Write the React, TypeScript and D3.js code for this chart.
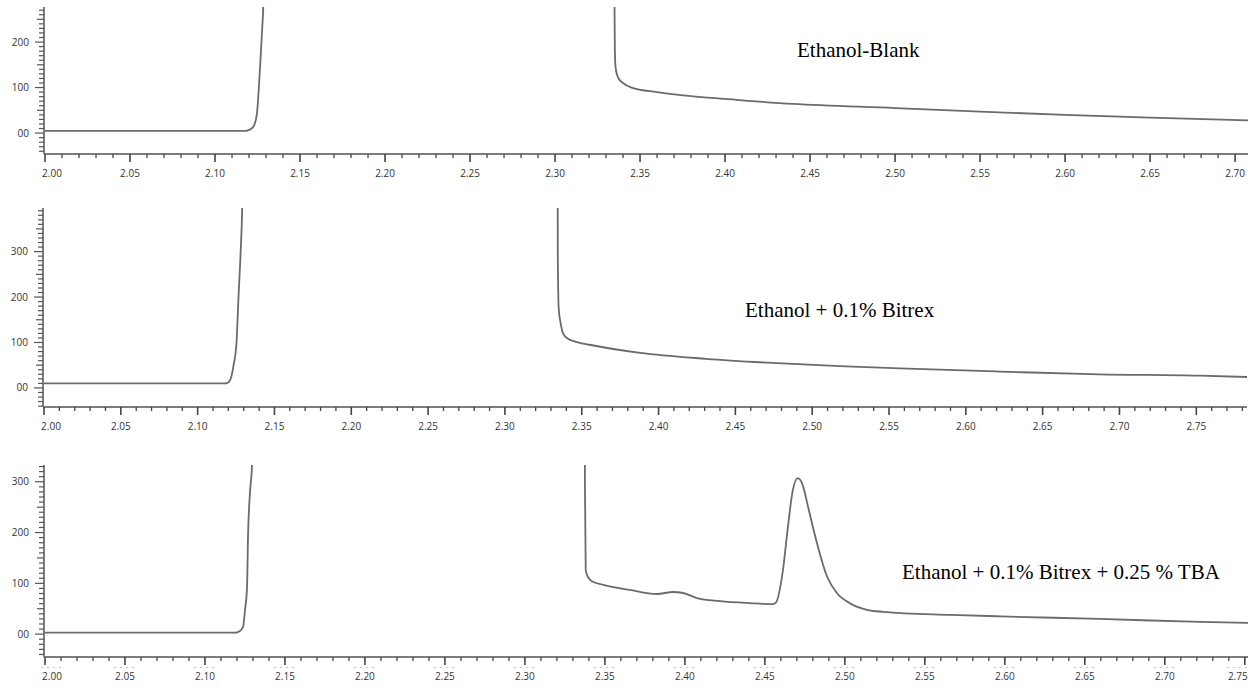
import React from "react";
import * as d3 from "d3";

// retention time (min) vs detector response
const blankTime = [2.0, 2.05, 2.1, 2.118, 2.1194, 2.1224, 2.1247, 2.1253, 2.1265, 2.1276, 2.1285, 2.131, 2.3346, 2.335, 2.3352, 2.3356, 2.3372, 2.34, 2.345, 2.36, 2.38, 2.4, 2.44, 2.5, 2.55, 2.6, 2.65, 2.708];
const blankSignal = [5, 5, 5, 5, 6, 13, 44, 72, 145, 220, 290, 1000, 1000, 270, 180, 145, 121, 110, 100, 90, 81, 75, 64, 55, 47, 40, 34, 28];

const bitrexTime = [2.0, 2.05, 2.1, 2.118, 2.1195, 2.1215, 2.1234, 2.1253, 2.1266, 2.128, 2.129, 2.131, 2.3342, 2.3344, 2.335, 2.3364, 2.3377, 2.3403, 2.3468, 2.3552, 2.388, 2.431, 2.474, 2.518, 2.557, 2.622, 2.687, 2.752, 2.783];
const bitrexSignal = [10, 10, 10, 10, 11, 20, 50, 100, 200, 300, 396, 1000, 1000, 300, 175, 140, 121, 110, 101, 95, 77, 64, 55, 48, 43, 36, 30, 27, 24];

const tbaTime = [2.0, 2.05, 2.1, 2.119, 2.1206, 2.1238, 2.125, 2.1263, 2.1269, 2.1281, 2.1294, 2.131, 2.3371, 2.3375, 2.338, 2.3395, 2.3425, 2.349, 2.3656, 2.3825, 2.3925, 2.399, 2.4075, 2.422, 2.4406, 2.455, 2.4569, 2.4613, 2.4644, 2.4675, 2.4706, 2.4738, 2.4769, 2.4825, 2.4888, 2.495, 2.5031, 2.5138, 2.524, 2.566, 2.597, 2.659, 2.722, 2.752];
const tbaSignal = [3, 3, 3, 3, 4, 14, 47, 93, 191, 278, 333, 1000, 1000, 300, 126, 112, 103, 97, 87, 79, 83, 81, 71, 65, 61, 59, 62, 126, 211, 284, 307, 292, 252, 180, 114, 81, 61, 48, 44, 38, 35, 30, 24, 22];

const titles = ["Ethanol-Blank", "Ethanol + 0.1% Bitrex", "Ethanol + 0.1% Bitrex + 0.25 % TBA"];
const yLabelsBlank = [0, 100, 200];
const yLabels = [0, 100, 200, 300];

// layout of each panel (pixels) + axis extents
const panels = [
  { time: blankTime, signal: blankSignal, title: titles[0], yLabels: yLabelsBlank, xMax: 2.7076, yMin: -46, yMax: 277, top: 7, bottom: 154, left: 45, right: 1248, tx: 797, ty: 57, ghost: false },
  { time: bitrexTime, signal: bitrexSignal, title: titles[1], yLabels: yLabels, xMax: 2.783, yMin: -42, yMax: 396, top: 208, bottom: 407, left: 44, right: 1247, tx: 745, ty: 317, ghost: false },
  { time: tbaTime, signal: tbaSignal, title: titles[2], yLabels: yLabels, xMax: 2.752, yMin: -45, yMax: 333, top: 465, bottom: 657, left: 45, right: 1248, tx: 902, ty: 579, ghost: true },
];

const lineColor = "#6b6b6b";
const axisColor = "#7d7d7d";
const tickFont = "'Open Sans', 'Liberation Sans', sans-serif";
const fmt = d3.format(".2f");

function Panel({ p, idx }) {
  const x = d3.scaleLinear().domain([2.0, p.xMax]).range([p.left, p.right]);
  const y = d3.scaleLinear().domain([p.yMin, p.yMax]).range([p.bottom, p.top]);
  const pts = p.time.map((t, i) => [t, p.signal[i]]);
  const line = d3
    .line()
    .x((d) => x(d[0]))
    .y((d) => y(d[1]))
    .curve(d3.curveMonotoneX);

  const nMinor = Math.floor((p.xMax - 2) * 100 + 1e-6);
  const xMinor = d3.range(0, nMinor + 1).map((i) => 2 + i / 100);
  const yMinor = d3.range(Math.ceil(p.yMin / 10) * 10, p.yMax, 10);
  const ax = p.left - 1;
  const clipId = "clip" + idx;

  return (
    <g>
      <defs>
        <clipPath id={clipId}>
          <rect x={p.left} y={p.top} width={p.right - p.left} height={p.bottom - p.top} />
        </clipPath>
      </defs>

      {/* y axis */}
      <line x1={ax} x2={ax} y1={p.top} y2={p.bottom} stroke={axisColor} strokeWidth={2} />
      {yMinor.map((v) => {
        const len = v % 100 === 0 ? 9 : v % 50 === 0 ? 7 : 5;
        return <line key={"ym" + v} x1={ax - len} x2={ax} y1={y(v)} y2={y(v)} stroke="#555" strokeWidth={1.2} />;
      })}
      {p.yLabels.map((v) => (
        <text key={"yl" + v} x={ax - 15} y={y(v)} dy="0.35em" textAnchor="end" fontSize={10} fill="#333" fontFamily={tickFont}>
          {v === 0 ? "00" : v}
        </text>
      ))}

      {/* x axis */}
      <line x1={ax} x2={p.right} y1={p.bottom} y2={p.bottom} stroke={axisColor} strokeWidth={2} />
      {xMinor.map((t, i) => {
        const major = i % 5 === 0;
        return <line key={"xm" + i} x1={x(t)} x2={x(t)} y1={p.bottom} y2={p.bottom + (major ? 8 : 4)} stroke="#444" strokeWidth={major ? 1.6 : 1.3} />;
      })}
      {xMinor
        .filter((_, i) => i % 5 === 0)
        .map((t, i, arr) => {
          let dx = 0;
          if (i === 0) dx = 7;
          if (i === arr.length - 1 && x(t) > p.right - 8) dx = -7;
          return (
            <g key={"xl" + i}>
              {p.ghost && (
                <line x1={x(t) + dx - 11} x2={x(t) + dx + 11} y1={p.bottom + 10.5} y2={p.bottom + 10.5} stroke="#b4bdf0" strokeWidth={1.2} strokeDasharray="2,4" />
              )}
              <text x={x(t) + dx} y={p.bottom + 19} dy="0.35em" textAnchor="middle" fontSize={10} fill="#333" fontFamily={tickFont}>
                {fmt(t)}
              </text>
            </g>
          );
        })}

      {/* trace */}
      <path d={line(pts)} fill="none" stroke={lineColor} strokeWidth={1.8} clipPath={`url(#${clipId})`} />

      <text x={p.tx} y={p.ty} fontSize={21} fontFamily="'Liberation Serif', 'Times New Roman', serif" fill="#000">
        {p.title}
      </text>
    </g>
  );
}

export default function App() {
  return (
    <svg width={1259} height={690} style={{ position: "absolute", left: 0, top: 0, background: "#fff" }}>
      {panels.map((p, i) => (
        <Panel key={i} p={p} idx={i} />
      ))}
    </svg>
  );
}
